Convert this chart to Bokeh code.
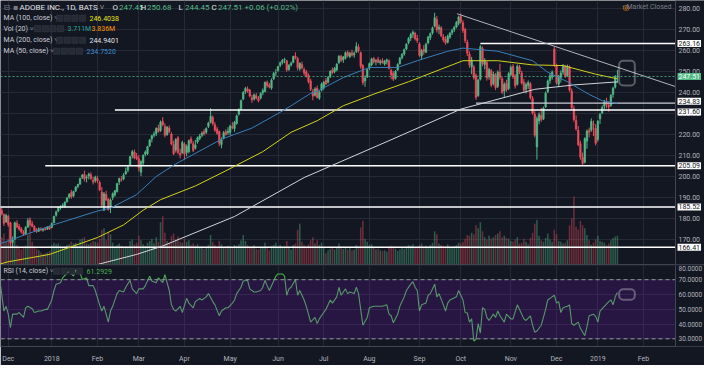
import numpy as np
import pandas as pd
from bokeh.plotting import figure
from bokeh.layouts import column
from bokeh.models import (Range1d, FixedTicker, Label, Span, BoxAnnotation, ColumnDataSource)
from bokeh.embed import file_html
from bokeh.resources import INLINE

BG = "#131722"
GRID = "#262a36"
UP = "#53b987"
DOWN = "#eb4d5c"
FONT = "Roboto"
TXT = "#b2b5be"

# ---------------- data (daily bars, Nov 27 2017 .. mid Jan 2019) ----------------
opens = [
    184.5, 183.8, 182.0, 178.5,
    181.0, 178.0, 168.8, 170.2, 177.8, 176.3, 175.2, 173.4, 172.8, 176.0, 179.4, 177.5, 176.2, 174.6, 174.0, 175.0, 174.5, 175.1, 175.0, 176.0,
    175.8, 178.0, 181.6, 183.6, 185.2, 186.0, 185.8, 188.0, 190.2, 192.4, 190.8, 193.2, 195.2, 196.4, 199.6, 201.0, 199.4, 200.2, 200.8, 198.2, 198.0,
    199.0, 197.2, 192.6, 184.0, 191.4, 189.2, 185.6, 190.0, 191.2, 192.8, 197.4, 198.6, 198.8, 201.2, 203.0, 205.4, 210.0, 211.6, 209.4,
    208.4, 202.0, 206.4, 210.6, 210.8, 214.6, 217.8, 219.6, 220.4, 223.0, 221.8, 226.2, 223.8, 219.8, 223.0, 220.2, 215.2, 212.6, 218.4, 211.0, 211.2,
    215.4, 211.4, 211.8, 217.8, 215.6, 213.4, 216.4, 218.0, 219.6, 221.4, 221.0, 223.8, 225.8, 228.0, 224.6, 222.6, 221.4, 215.2, 218.4, 221.2, 220.8,
    221.0, 223.6, 222.8, 225.2, 229.6, 232.2, 236.8, 240.4, 241.6, 241.0, 237.4, 236.8, 238.4, 237.0, 237.2, 239.8, 240.4, 244.8, 243.4, 242.0, 246.4, 249.2,
    250.4, 252.8, 254.2, 255.4, 255.0, 250.8, 253.0, 254.2, 257.2, 256.0, 251.2, 253.2, 250.8, 249.6, 248.0, 245.4, 240.2, 238.6, 242.0, 237.2, 241.0,
    242.0, 245.6, 244.8, 247.4, 250.6, 249.8, 250.6, 254.0, 257.0, 255.4, 256.2, 259.0, 257.0, 258.8, 257.8, 259.2, 261.4, 258.8, 252.6, 245.4, 247.2,
    251.4, 253.0, 256.0, 254.6, 255.6, 254.0, 255.0, 253.4, 254.6, 255.0, 250.4, 249.0, 246.6, 250.6, 253.6, 256.4, 258.2, 260.6, 263.6, 265.8, 267.6, 268.0, 265.6,
    263.0, 257.2, 260.4, 259.0, 263.4, 266.0, 268.2, 271.4, 274.6, 270.0, 270.6, 266.4, 265.2, 263.8, 266.2, 268.4, 269.8, 271.0, 272.8,
    276.0, 273.0, 269.8, 263.8, 258.2, 252.0, 252.0, 248.0, 238.4, 246.2, 260.8, 253.2, 254.2, 247.4, 250.2, 244.0, 248.2, 242.8, 249.4, 246.4, 240.6, 244.2, 241.8,
    248.4, 252.2, 247.8, 243.8, 252.0, 249.2, 244.8, 241.4, 243.2, 244.0, 237.0, 229.6, 214.0, 226.4, 229.0, 227.4, 233.0, 240.2, 245.6, 247.2,
    260.6, 252.8, 243.8, 247.0, 249.6, 252.2, 248.0, 252.0, 240.6, 232.2, 226.6, 222.0, 215.6, 209.0, 206.8, 216.8, 221.8, 222.0, 224.8,
    223.0, 217.6, 227.4, 230.2, 233.4, 235.0, 233.8, 233.6, 239.0, 242.4, 247.45,
]
highs = [
    186.0, 185.2, 182.4, 182.3,
    181.8, 178.5, 171.5, 178.6, 179.2, 177.4, 176.0, 174.5, 176.4, 180.3, 180.6, 178.8, 176.9, 175.5, 175.8, 175.9, 175.4, 176.0, 176.4, 176.6,
    178.2, 181.4, 183.8, 185.7, 186.3, 187.2, 188.2, 190.2, 192.0, 193.6, 193.2, 195.4, 196.6, 199.4, 201.2, 202.8, 200.6, 201.8, 202.0, 199.8, 200.4,
    200.4, 198.0, 195.0, 192.6, 193.2, 189.8, 189.6, 192.4, 193.6, 197.0, 199.4, 200.2, 201.6, 204.2, 205.4, 209.8, 212.6, 212.8, 211.2,
    210.2, 207.6, 210.6, 212.4, 214.6, 217.8, 219.8, 221.4, 223.4, 224.6, 226.6, 228.2, 225.2, 224.0, 224.2, 221.0, 217.0, 218.2, 219.2, 213.2, 217.0,
    216.2, 215.2, 217.6, 219.0, 216.8, 217.4, 219.0, 220.2, 221.4, 222.6, 223.4, 226.0, 232.4, 229.0, 225.8, 223.6, 221.8, 218.6, 221.6, 222.4, 223.4,
    224.6, 225.8, 226.4, 229.4, 232.4, 236.6, 240.6, 242.6, 242.8, 241.6, 238.8, 239.4, 239.6, 238.2, 240.0, 241.8, 245.2, 245.6, 244.4, 246.6, 249.6, 251.0,
    252.6, 254.6, 255.8, 256.4, 255.4, 253.4, 254.6, 257.4, 259.0, 256.8, 254.2, 254.6, 251.8, 250.6, 249.0, 246.4, 241.6, 242.4, 243.2, 240.8, 244.6,
    245.4, 246.8, 247.6, 250.4, 251.8, 252.0, 253.8, 257.6, 257.8, 257.2, 259.4, 259.8, 259.2, 260.2, 259.4, 263.8, 262.8, 259.4, 253.4, 248.0, 251.2,
    254.2, 256.4, 256.8, 255.8, 256.8, 255.6, 256.2, 255.4, 256.0, 255.6, 251.2, 250.0, 250.6, 253.8, 256.8, 258.6, 260.8, 263.4, 266.2, 268.2, 269.4, 268.8, 267.2,
    263.8, 260.6, 262.4, 263.6, 266.8, 268.4, 271.2, 277.8, 276.2, 272.2, 271.4, 267.6, 266.6, 267.4, 268.6, 270.2, 271.6, 273.8, 276.4,
    277.4, 274.2, 270.6, 265.0, 259.4, 256.8, 253.0, 249.0, 246.4, 262.4, 261.8, 256.2, 255.0, 251.6, 251.0, 249.8, 249.2, 250.4, 253.6, 247.2, 244.8, 246.0, 249.6,
    252.8, 253.4, 248.6, 253.2, 253.0, 250.2, 246.4, 244.6, 245.6, 244.8, 238.2, 231.0, 228.6, 230.4, 232.6, 233.2, 240.4, 246.0, 249.2, 250.4,
    261.6, 253.6, 248.2, 250.4, 253.4, 253.0, 253.2, 252.8, 241.8, 233.6, 229.0, 224.0, 217.0, 211.4, 218.6, 222.4, 223.2, 227.6, 226.6,
    224.8, 226.8, 230.2, 233.8, 236.4, 237.4, 235.6, 239.2, 242.6, 248.2, 250.68,
]
lows = [
    182.8, 181.5, 176.5, 177.9,
    176.0, 166.6, 166.4, 169.9, 175.4, 174.2, 173.0, 171.8, 172.5, 175.6, 176.5, 175.9, 173.8, 173.2, 173.6, 174.0, 173.8, 174.3, 174.6, 174.6,
    175.4, 177.8, 180.9, 183.0, 184.2, 185.0, 185.2, 187.6, 189.5, 189.4, 190.2, 192.6, 194.4, 196.0, 198.8, 197.6, 197.2, 198.6, 198.4, 196.2, 197.0,
    196.8, 193.0, 185.6, 183.6, 188.4, 183.8, 182.6, 188.8, 190.4, 192.4, 196.0, 197.6, 198.2, 200.8, 202.0, 205.0, 208.6, 208.2, 207.8,
    202.4, 200.2, 205.4, 209.6, 210.2, 214.0, 216.2, 218.6, 219.2, 220.8, 221.2, 223.8, 218.6, 219.4, 220.6, 214.8, 210.2, 211.4, 210.6, 208.6, 210.8,
    208.0, 209.6, 211.0, 215.4, 211.6, 212.8, 215.6, 217.2, 218.6, 219.4, 220.2, 223.0, 225.2, 224.2, 221.2, 219.8, 214.4, 213.4, 217.6, 219.4, 219.8,
    219.6, 222.4, 221.2, 224.6, 229.0, 231.6, 236.2, 239.2, 239.8, 237.6, 235.0, 236.0, 236.6, 235.2, 236.6, 238.6, 240.0, 242.2, 241.8, 241.2, 245.8, 247.6,
    249.8, 252.0, 253.2, 253.8, 249.8, 250.2, 252.2, 253.8, 255.6, 250.4, 250.2, 250.8, 248.0, 247.0, 244.2, 240.6, 236.2, 238.0, 237.0, 236.4, 240.4,
    241.2, 243.4, 244.2, 246.8, 248.6, 249.0, 250.0, 253.6, 254.4, 254.0, 255.6, 256.6, 256.2, 257.0, 256.4, 258.6, 258.8, 251.2, 243.4, 242.6, 246.8,
    250.6, 252.4, 253.6, 252.8, 253.8, 253.0, 253.6, 252.6, 253.2, 250.8, 246.2, 245.4, 246.0, 250.2, 253.2, 255.6, 257.4, 260.0, 262.8, 264.4, 265.8, 264.6, 263.4,
    256.8, 255.4, 257.8, 258.6, 262.8, 264.8, 267.4, 270.8, 268.4, 267.6, 266.2, 263.8, 262.6, 263.2, 265.4, 267.2, 268.6, 270.4, 271.8,
    272.6, 268.2, 263.4, 257.2, 251.6, 248.6, 246.0, 236.4, 237.8, 245.6, 252.4, 250.8, 245.6, 246.0, 242.4, 243.2, 241.0, 242.0, 246.0, 239.2, 237.4, 240.2, 241.0,
    247.6, 246.4, 241.8, 243.2, 248.6, 243.6, 239.8, 239.4, 241.6, 236.6, 229.4, 218.6, 208.0, 224.8, 226.0, 226.8, 232.6, 239.6, 244.0, 246.0,
    252.0, 243.6, 242.4, 244.6, 248.4, 246.8, 247.2, 240.2, 231.8, 226.0, 221.8, 214.4, 208.0, 205.0, 206.2, 213.2, 218.6, 221.2, 219.2,
    214.8, 216.6, 225.0, 229.6, 232.0, 232.4, 230.8, 233.2, 237.4, 241.8, 244.45,
]
closes = [
    183.6, 182.2, 177.8, 181.5,
    177.2, 168.5, 169.8, 178.0, 176.0, 175.0, 173.6, 172.4, 175.9, 179.0, 177.2, 176.4, 174.3, 173.9, 175.2, 174.6, 175.0, 174.8, 175.9, 175.2,
    177.7, 181.0, 183.2, 185.3, 185.6, 186.4, 187.8, 189.8, 191.6, 190.4, 192.9, 195.0, 196.2, 199.1, 200.6, 198.8, 199.8, 201.2, 199.0, 197.4, 199.6,
    198.0, 193.6, 186.4, 191.8, 188.8, 184.2, 188.8, 191.8, 193.2, 196.6, 199.0, 198.4, 200.6, 202.4, 204.6, 209.4, 211.8, 208.8, 208.6,
    204.0, 207.2, 210.0, 211.6, 214.2, 217.4, 219.4, 220.2, 222.8, 221.4, 225.8, 224.6, 219.6, 223.4, 221.2, 215.4, 210.8, 217.6, 211.4, 210.2, 216.2,
    210.6, 214.4, 217.0, 216.2, 212.4, 215.0, 218.4, 219.2, 220.6, 220.2, 222.8, 225.4, 228.6, 225.0, 222.0, 220.6, 215.8, 217.4, 220.8, 220.0, 221.6,
    224.0, 223.2, 225.8, 228.8, 231.8, 236.0, 240.0, 241.8, 240.6, 238.2, 236.4, 238.8, 237.2, 236.0, 239.4, 240.8, 244.6, 243.2, 242.6, 245.8, 249.0, 249.3,
    252.2, 254.0, 255.2, 255.6, 250.6, 252.8, 253.8, 257.0, 256.4, 251.8, 253.8, 251.6, 249.2, 247.8, 245.0, 241.4, 238.2, 241.6, 237.6, 240.2, 243.8,
    244.8, 244.0, 247.2, 250.0, 249.4, 251.4, 253.4, 257.2, 255.2, 256.8, 258.8, 257.4, 258.6, 257.6, 258.4, 261.8, 259.8, 252.4, 244.6, 246.8, 250.8,
    253.6, 255.8, 254.4, 255.0, 254.2, 254.8, 254.0, 254.8, 255.4, 251.4, 248.2, 246.2, 250.0, 253.2, 256.2, 258.0, 260.2, 262.8, 265.6, 267.4, 268.6, 265.4, 264.6,
    257.6, 259.8, 259.4, 262.8, 266.2, 267.8, 270.6, 275.4, 269.6, 271.0, 266.8, 264.8, 263.4, 266.6, 268.0, 269.4, 270.8, 273.2, 275.8,
    273.4, 269.4, 264.6, 258.6, 253.0, 255.2, 247.0, 237.6, 245.8, 261.6, 253.6, 255.0, 246.8, 250.8, 243.4, 248.6, 242.2, 249.6, 247.0, 240.0, 243.8, 241.2, 248.8,
    251.8, 247.4, 243.0, 252.4, 249.6, 244.4, 241.0, 243.6, 244.6, 237.4, 230.2, 219.6, 227.6, 229.4, 227.0, 232.4, 239.6, 245.4, 247.8, 249.6,
    253.2, 244.6, 247.6, 249.2, 252.6, 247.6, 252.4, 241.0, 232.6, 227.0, 222.6, 215.2, 209.2, 206.2, 218.0, 221.6, 221.0, 226.2, 224.6,
    215.8, 226.2, 229.4, 232.8, 235.4, 234.2, 233.0, 238.6, 242.0, 247.45, 247.51,
]
volumes = [  # millions of shares
    2.9, 3.6, 4.1, 3.0,
    3.4, 4.6, 3.3, 3.8, 2.6, 2.2, 2.0, 2.3, 2.5, 3.9, 5.2, 3.0, 2.4, 2.1, 1.9, 1.6, 1.4, 1.5, 1.6, 1.8,
    2.6, 2.9, 2.7, 2.8, 2.4, 2.2, 2.3, 2.6, 2.7, 3.0, 2.8, 2.9, 2.5, 3.3, 3.4, 3.6, 2.8, 2.7, 2.9, 3.1, 3.0,
    2.9, 3.4, 4.6, 4.8, 3.2, 4.3, 4.0, 2.9, 2.4, 2.6, 2.8, 2.5, 2.2, 2.4, 2.3, 3.1, 3.3, 2.7, 2.9,
    3.8, 3.2, 2.7, 2.5, 2.9, 3.1, 3.4, 2.8, 3.6, 3.0, 5.6, 6.4, 4.2, 3.1, 2.9, 3.8, 4.1, 3.3, 3.7, 3.0, 2.9,
    3.4, 3.0, 3.2, 2.6, 2.8, 2.5, 2.7, 2.2, 2.4, 2.1, 2.3, 2.6, 3.9, 3.0, 2.6, 2.4, 3.1, 2.7, 2.3, 2.2, 2.5,
    2.4, 2.2, 2.6, 2.5, 2.7, 3.2, 3.9, 3.1, 2.6, 2.2, 2.4, 2.6, 2.1, 2.0, 2.3, 2.2, 2.9, 2.3, 1.9, 2.5, 2.6, 2.9,
    2.4, 2.6, 2.3, 2.4, 3.1, 2.2, 2.0, 2.6, 2.8, 4.6, 5.4, 3.0, 2.6, 2.4, 2.7, 3.2, 3.6, 2.8, 3.2, 2.6, 2.9,
    2.3, 1.5, 1.9, 2.1, 2.2, 2.0, 2.3, 2.8, 2.4, 2.1, 2.3, 2.0, 2.2, 1.9, 2.0, 2.6, 2.4, 4.9, 5.8, 3.4, 3.0,
    2.6, 2.7, 2.2, 2.0, 2.1, 1.9, 1.8, 1.9, 1.7, 2.3, 2.5, 2.4, 2.1, 1.8, 2.0, 2.2, 2.1, 2.4, 2.6, 2.5, 2.7, 2.3, 2.2,
    2.6, 2.8, 2.4, 2.5, 2.3, 2.6, 2.9, 4.4, 4.0, 2.8, 2.6, 2.5, 2.4, 2.7, 2.2, 2.3, 2.4, 2.6, 2.9,
    2.8, 3.0, 3.4, 3.9, 3.8, 4.2, 4.0, 5.2, 4.8, 5.6, 4.4, 3.6, 3.3, 3.8, 3.4, 3.6, 3.9, 4.1, 4.4, 3.6, 3.8, 3.5, 3.4,
    3.1, 3.0, 3.3, 3.6, 2.8, 2.9, 3.4, 3.0, 2.7, 3.5, 4.2, 5.4, 5.9, 3.8, 3.2, 3.0, 3.5, 4.1, 3.3, 3.0,
    4.6, 4.0, 3.1, 3.0, 2.8, 2.9, 3.2, 5.2, 6.1, 9.0, 5.0, 4.6, 5.8, 5.2, 4.8, 3.9, 3.2, 2.6, 2.9,
    3.3, 3.8, 3.1, 3.0, 2.9, 2.6, 2.8, 3.2, 3.5, 3.7, 3.8,
]

# moving averages (bar index -> value)
ma50_bars = [-4, 20, 41, 47, 59, 68, 77, 98, 104, 112, 125, 130, 139, 142, 154, 166, 179, 188, 202, 209, 225, 241, 248, 257, 267, 273, 280]
ma50_vals = [168.0, 176.8, 183.6, 185.0, 191.4, 200.0, 206.0, 217.7, 220.0, 223.0, 230.5, 233.6, 239.5, 240.5, 247.0, 251.8, 251.8, 255.0, 259.5, 261.0, 259.5, 255.0, 249.5, 245.0, 239.0, 236.0, 234.75]
ma100_bars = [-4, 0, 19, 41, 53, 62, 70, 86, 100, 117, 130, 142, 154, 169, 184, 199, 209, 225, 241, 255, 270, 280]
ma100_vals = [158.4, 159.5, 163.0, 171.0, 177.0, 184.0, 189.0, 195.5, 202.7, 211.8, 221.0, 226.5, 233.6, 239.5, 245.0, 251.0, 255.0, 255.0, 253.0, 252.7, 248.6, 246.4]
ma200_bars = [41, 59, 71, 104, 136, 175, 208, 242, 260, 280]
ma200_vals = [158.2, 163.0, 167.0, 181.0, 199.5, 217.0, 232.0, 241.4, 243.5, 244.94]

# RSI(14) (bar index -> value)
rsi_bars = [-4, -2, -1, 0, 1, 2, 4, 5, 7, 8, 9, 11, 12, 14, 15, 17, 18, 20, 21, 22, 24, 25, 27, 28, 30, 31, 33, 34, 36, 37, 39, 40,
            42, 43, 44, 46, 47, 48, 50, 51, 53, 54, 56, 57, 59, 60, 62, 63, 65, 66, 68, 69, 71, 72, 74, 75, 76, 77, 79, 80,
            82, 83, 85, 86, 88, 89, 91, 92, 94, 95, 97, 98, 100, 101, 103, 104, 105, 107, 108, 110, 111, 113, 114, 116, 117, 118, 119, 120,
            122, 123, 124, 126, 127, 128, 129, 130, 132, 133, 134, 136, 137, 138, 139, 141, 142, 143, 145, 146, 148, 149, 151, 152, 153,
            155, 156, 157, 159, 160, 161, 163, 165, 166, 168, 170, 172, 174, 175, 176, 177, 179, 180, 182, 183, 185, 186, 187, 188,
            189, 190, 192, 193, 194, 196, 197, 198, 200, 201, 202, 203, 206, 207, 209, 210, 211, 212, 213, 214, 215, 216, 217, 218, 219,
            220, 221, 223, 224, 225, 226, 228, 229, 231, 232, 234, 235, 237, 238, 240, 241, 242, 243, 245, 246, 247, 248, 249, 251, 252,
            253, 254, 255, 257, 258, 259, 260, 262, 263, 265, 266, 267, 269, 270, 271, 272, 274, 276, 277, 278, 279, 280]
rsi_vals = [71.3, 48.8, 52.0, 46.7, 37.5, 46.7, 46.7, 47.8, 44.5, 51.0, 52.0, 50.3, 47.8, 48.8, 48.8, 49.9, 49.9, 56.3, 62.7, 67.0, 68.0, 71.3, 74.5, 75.6, 72.4, 76.6, 74.5, 70.2, 71.3, 66.0, 66.0, 62.7,
            53.0, 48.8, 52.0, 41.3, 48.8, 52.0, 60.6, 62.7, 61.7, 64.9, 69.6, 63.8, 60.6, 63.8, 63.8, 66.0, 72.4, 69.1, 68.0, 71.3, 68.0, 73.4, 62.7, 53.0, 49.9, 48.8, 52.0, 47.8,
            57.4, 54.2, 51.0, 55.2, 57.4, 56.3, 58.4, 60.6, 55.2, 53.0, 45.6, 48.8, 51.0, 51.0, 54.2, 56.3, 60.6, 64.9, 69.1, 69.6, 63.8, 61.7, 61.7, 62.7, 64.9, 69.6, 66.0, 62.7,
            69.1, 72.4, 73.9, 73.9, 72.4, 59.5, 63.8, 64.9, 70.2, 59.5, 62.7, 56.3, 52.0, 46.7, 41.3, 44.5, 40.3, 43.5, 47.8, 49.9, 56.3, 54.2, 58.4, 64.9, 59.5,
            63.8, 60.6, 61.7, 60.6, 64.9, 60.6, 39.2, 44.5, 51.0, 52.0, 52.0, 52.0, 53.0, 46.7, 45.6, 40.9, 46.7, 52.0, 58.4, 62.7, 67.0, 68.7, 64.9, 62.7,
            48.8, 53.0, 54.2, 59.5, 60.6, 67.0, 58.4, 60.6, 53.0, 48.8, 54.2, 56.3, 58.4, 62.7, 56.3, 47.8, 47.5, 41.3, 43.5, 28.5, 29.6, 40.3, 33.9, 51.0, 49.9,
            44.5, 42.4, 46.7, 44.5, 48.8, 45.6, 41.3, 46.7, 43.5, 43.5, 53.0, 49.9, 43.5, 42.4, 45.6, 39.2, 34.5, 35.3, 39.2, 44.5, 49.9, 56.3, 57.4, 59.5, 54.2,
            55.2, 47.8, 51.0, 52.0, 53.0, 40.3, 39.2, 41.3, 37.1, 32.1, 38.1, 45.6, 46.7, 45.2, 41.3, 48.8, 52.0, 55.2, 56.3, 53.0, 58.4, 61.3]

# horizontal levels drawn by the user, trend line and highlight boxes (bar / price anchors)
level_prices = [263.16, 234.83, 231.60, 205.09, 185.52, 166.41]
level_start_bars = [217, 215, 49, 17, -4, -4]
level_colors = ["#ffffff", "#c9ccd6", "#ffffff", "#ffffff", "#ffffff", "#ffffff"]
trend_bars = [206.3, 306.7]
trend_prices = [277.3, 242.7]
box_bars = [280.8, 288.0]
box_prices = [243.2, 255.0]
box_rsi = [56.5, 63.5]

price_ticks = [170, 180, 190, 200, 210, 220, 230, 240, 250, 260, 270, 280]
rsi_ticks = [30, 40, 50, 60, 70, 80]
month_labels = ["Dec", "2018", "Feb", "Mar", "Apr", "May", "Jun", "Jul", "Aug", "Sep", "Oct", "Nov", "Dec", "2019", "Feb"]

holidays = ["2017-11-23", "2017-12-25", "2018-01-01", "2018-01-15", "2018-02-19", "2018-03-30",
            "2018-05-28", "2018-07-04", "2018-09-03", "2018-11-22", "2018-12-05", "2018-12-25",
            "2019-01-01", "2019-01-21", "2019-02-18"]

# ---------------- build ----------------
dates = pd.bdate_range("2017-11-27", "2019-02-28", freq="C", holidays=holidays)
bar_all = np.arange(len(dates)) - 4
month_ticks = [int(bar_all[k]) for k in range(1, len(dates)) if dates[k].month != dates[k - 1].month]
month_ticks = month_ticks[:len(month_labels)]

n = min(len(opens), len(highs), len(lows), len(closes), len(volumes))
o = np.array(opens[:n]); h = np.array(highs[:n]); l = np.array(lows[:n]); c = np.array(closes[:n])
v = np.array(volumes[:n])
bars = bar_all[:n]
col = np.where(c >= o, UP, DOWN)
src = ColumnDataSource(dict(x=bars, o=o, h=h, l=l, c=c, top=np.maximum(o, c), bot=np.minimum(o, c),
                            col=col, vol=v))

W = 704                 # whole width; the price scale is drawn inside the frame
AXPX = 675              # pixel where the price scale begins
AX = 306.7              # bar position of that pixel
XR = Range1d(-3.57, -3.57 + (AX + 3.57) * W / AXPX)


def base_fig(h, yr, xaxis):
    f = figure(frame_width=W, frame_height=h, x_range=XR, y_range=yr,
               x_axis_location=xaxis, y_axis_location=None, output_backend="svg",
               toolbar_location=None, background_fill_color=BG, border_fill_color=BG,
               min_border_left=0, min_border_top=0, min_border_bottom=0, min_border_right=0,
               outline_line_color=None)
    f.xgrid.ticker = FixedTicker(ticks=month_ticks)
    f.grid.grid_line_color = GRID
    return f


def txt(fig, x, y, s, color, size="7px", font=FONT, align="left"):
    fig.add_layout(Label(x=x, y=y, x_units="screen", y_units="screen", text=s, text_color=color,
                         text_font_size=size, text_font=font, text_baseline="middle", text_align=align))


def icons(fig, x, y):
    for k in range(4):
        fig.add_layout(BoxAnnotation(left=x + k * 7.6, right=x + k * 7.6 + 6.4, bottom=y - 3.2, top=y + 3.2,
                                     left_units="screen", right_units="screen", bottom_units="screen",
                                     top_units="screen", fill_color="#262a35", fill_alpha=1,
                                     line_color="#4a4e5a", line_width=0.8))


def scale(fig, ticks, fmt, size, top_shift=0):
    fig.add_layout(BoxAnnotation(left=AX, fill_color=BG, fill_alpha=1, line_color=None))
    fig.add_layout(Span(location=AX, dimension="height", line_color="#434651", line_width=1))
    for t in ticks:
        dy = top_shift if t == ticks[-1] else 0
        fig.add_layout(Label(x=AX, y=t, x_offset=3, y_offset=dy, text=fmt.format(t), text_color=TXT,
                             text_font_size=size, text_font=FONT, text_baseline="middle"))


def tag(fig, price, s, bg, fg, dy=0):
    fig.add_layout(Label(x=AX, y=price, x_offset=2, text=s, text_color=fg,
                         text_font_size="7px", text_font=FONT, text_baseline="middle",
                         background_fill_color=bg, padding=1, y_offset=dy))


# ---------------- price pane ----------------
main = base_fig(264, Range1d(158.2, 283.6), None)
main.ygrid.ticker = FixedTicker(ticks=price_ticks)
main.extra_y_ranges = {"vol": Range1d(0, 35)}

main.vbar(x="x", top="vol", width=0.7, source=src, y_range_name="vol",
          fill_color="col", line_color=None, fill_alpha=0.42)
main.segment(x0="x", y0="l", x1="x", y1="h", source=src, line_color="col", line_width=1)
main.vbar(x="x", top="top", bottom="bot", width=0.7, source=src, fill_color="col",
          line_color="col", line_width=0.6)

main.segment(x0=level_start_bars, y0=level_prices, x1=[AX] * len(level_prices), y1=level_prices,
             line_color=level_colors, line_width=1.4)
main.add_layout(Span(location=closes[n - 1], dimension="width", line_color=UP, line_dash="2 2",
                     line_width=1, line_alpha=0.8))
main.line(ma200_bars, ma200_vals, line_color="#d1d4dc", line_width=1)
main.line(ma100_bars, ma100_vals, line_color="#d2d21e", line_width=1)
main.line(ma50_bars, ma50_vals, line_color="#3a7fb8", line_width=1)
main.line(trend_bars, trend_prices, line_color="#b2b5be", line_width=1)
main.add_layout(BoxAnnotation(left=box_bars[0], right=box_bars[1], bottom=box_prices[0], top=box_prices[1],
                              fill_alpha=0, line_color="white", line_width=2, border_radius=4))

scale(main, price_ticks, "{:.2f}", "7px")
tag(main, 263.16, "263.16", "#ffffff", "#131722")
tag(main, 247.51, "247.51", UP, "#ffffff")
tag(main, 234.83, "234.83", "#ffffff", "#131722", 2)
tag(main, 231.60, "231.60", "#ffffff", "#131722", -2)
tag(main, 205.09, "205.09", "#ffffff", "#131722")
tag(main, 185.52, "185.52", "#ffffff", "#131722")
tag(main, 166.41, "166.41", "#ffffff", "#131722")

NAME = "#c9ccd6"
rows = [257.3, 246.3, 235.8, 224.3, 213.3]
txt(main, 3, rows[0], "⊟ ▪", "#787b86", "8px", font="DejaVu Sans")
txt(main, 19, rows[0], "ADOBE INC., 1D, BATS ˅", "#e0e3eb", "8px")
for lx, letter, val in [(112, "O", "247.45"), (140, "H", "250.68"), (178, "L", "244.45"), (211, "C", "247.51")]:
    txt(main, lx, rows[0], letter, "#e0e3eb", "8px")
    txt(main, lx + 6.5, rows[0], val, UP, "8px")
txt(main, 244, rows[0], "+0.06 (+0.02%)", UP, "8px")

txt(main, 3, rows[1], "MA (100, close) ˅", NAME)
icons(main, 56, rows[1])
txt(main, 89, rows[1], "246.4038", "#e8e61c")
txt(main, 3, rows[2], "Vol (20) ˅", NAME)
icons(main, 34, rows[2])
txt(main, 67, rows[2], "3.711M", "#26a69a")
txt(main, 91, rows[2], "3.836M", "#ff9800")
txt(main, 3, rows[3], "MA (200, close) ˅", NAME)
icons(main, 56, rows[3])
txt(main, 89, rows[3], "244.9401", "#e0e3eb")
txt(main, 3, rows[4], "MA (50, close) ˅", NAME)
icons(main, 53, rows[4])
txt(main, 86, rows[4], "234.7520", "#3d8fd1")

txt(main, 622, rows[0], "◎", "#ff9800", "8px", font="DejaVu Sans")
txt(main, 671, rows[0], "• Market Closed", "#787b86", "7px", align="right")

# ---------------- RSI pane ----------------
rsi = base_fig(82, Range1d(24.8, 80.3), "below")
rsi.ygrid.ticker = FixedTicker(ticks=rsi_ticks)
rsi.add_layout(BoxAnnotation(bottom=30, top=70, right=AX, fill_color="#9915ff", fill_alpha=0.15,
                             line_color=None))
for lvl in (70, 30):
    rsi.add_layout(Span(location=lvl, dimension="width", line_color="#9598a1", line_dash="4 3", line_width=1))
m = min(len(rsi_bars), len(rsi_vals))
rsi.line(rsi_bars[:m], rsi_vals[:m], line_color="#4caf50", line_width=1.1)
rsi.add_layout(BoxAnnotation(left=box_bars[0], right=box_bars[1], bottom=box_rsi[0], top=box_rsi[1],
                             fill_alpha=0, line_color="white", line_width=2, border_radius=4))
scale(rsi, rsi_ticks, "{:.4f}", "6.5px", top_shift=-4)
rsi.add_layout(Span(location=80.3, dimension="width", line_color="#2a2e39", line_width=2))

xa = rsi.xaxis[0]
xa.ticker = FixedTicker(ticks=month_ticks)
xa.major_label_overrides = {t: s for t, s in zip(month_ticks, month_labels)}
xa.major_label_text_color = TXT
xa.major_label_text_font_size = "7px"
xa.major_label_text_font = FONT
xa.axis_line_color = "#434651"
xa.major_tick_line_color = None
xa.minor_tick_line_color = None
xa.major_label_standoff = 2

txt(rsi, 3, 75.3, "RSI (14, close) ˅", NAME)
icons(rsi, 53, 75.3)
txt(rsi, 86, 75.3, "61.2929", "#4caf50")

layout = column(main, rsi)
open("out.html", "w").write(file_html(layout, INLINE))
